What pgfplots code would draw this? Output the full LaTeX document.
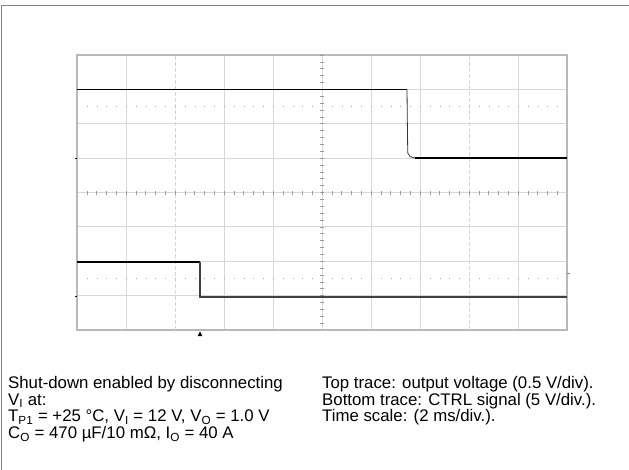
\documentclass[border=0pt]{standalone}
\usepackage{fontspec}
\setmainfont{Liberation Sans}
\usepackage{pgfplots}
\pgfplotsset{compat=1.18}

\definecolor{gridgray}{RGB}{216,216,216}
\definecolor{framegray}{RGB}{130,130,130}
\newcommand{\sub}[1]{\textsubscript{#1}}

\begin{document}
\begin{tikzpicture}[x=1bp,y=1bp]
\useasboundingbox (0,0) rectangle (629,-470);
% outer frame (cut at right and bottom)
\draw[framegray, line width=1.3bp] (1.5,-470) -- (1.5,-5.5) -- (629,-5.5);

\begin{axis}[
  at={(77bp,-330bp)}, anchor=south west,
  scale only axis, width=490bp, height=275bp,
  xmin=0, xmax=20, ymin=-4, ymax=4,
  xtick={0,2,6,8,10,12,14,18,20}, ytick={-4,...,4},
  xticklabels={}, yticklabels={},
  major tick length=0pt,
  grid=major, grid style={gridgray, line width=0.9bp},
  axis line style={gray!55, line width=1.1bp},
  clip=false,
]
% dashed grid lines at 2 and 8 div
\draw[gridgray, line width=0.9bp, dash pattern=on 4bp off 2bp] (axis cs:4,-4) -- (axis cs:4,4);
\draw[gridgray, line width=0.9bp, dash pattern=on 4bp off 2bp] (axis cs:16,-4) -- (axis cs:16,4);
% dotted reference lines
\draw[gray!70, line width=0.9bp, dash pattern=on 0.9bp off 8.9bp] (axis cs:0.4,2.5) -- (axis cs:20,2.5);
\draw[gray!70, line width=0.9bp, dash pattern=on 0.9bp off 8.9bp] (axis cs:0.4,-2.5) -- (axis cs:20,-2.5);
% minor ticks on the centre lines
\pgfplotsinvokeforeach{0.4,0.8,...,19.7}{
  \draw[gray!80, line width=0.6bp] ([yshift=-2bp]axis cs:#1,0) -- ([yshift=2bp]axis cs:#1,0);}
\pgfplotsinvokeforeach{-3.8,-3.6,...,3.9}{
  \draw[gray!80, line width=0.6bp] ([xshift=-2bp]axis cs:10,#1) -- ([xshift=2bp]axis cs:10,#1);}

% top trace: output voltage
\addplot[black, line width=1.1bp] coordinates {(0,3.0) (13.47,3.0)};
\addplot[black!80, line width=0.8bp] coordinates {(13.47,3.0) (13.48,2.2) (13.5,1.15) (13.6,1.04) (13.8,1.0)};
\addplot[black, line width=1.8bp] coordinates {(13.8,1.0) (20,1.0)};

% bottom trace: CTRL signal
\addplot[black, line width=2bp] coordinates {(0,-2.02) (5.02,-2.02)};
\addplot[black!75, line width=1.2bp] coordinates {(5.02,-2.02) (5.02,-3.04) (20,-3.04)};

% channel markers and trigger marker
\draw[black, line width=1bp] (axis cs:0,1) -- ([xshift=-2.5bp]axis cs:0,1);
\draw[black, line width=1bp] (axis cs:0,-3.03) -- ([xshift=-2.5bp]axis cs:0,-3.03);
\draw[gray, line width=1bp] (axis cs:20,-2.36) -- ([xshift=2.5bp]axis cs:20,-2.36);
\fill[black] ([yshift=-1.5bp]axis cs:5.02,-4) -- ([xshift=-2.3bp,yshift=-6bp]axis cs:5.02,-4)
  -- ([xshift=2.3bp,yshift=-6bp]axis cs:5.02,-4) -- cycle;
\end{axis}

% notes below the screen (base anchor = last line's baseline)
\node[anchor=base west, align=left, inner sep=0,
      font=\fontsize{16.8bp}{16.7bp}\selectfont] at (8,-438.6)
  {Shut-down enabled by disconnecting\\
   V\sub{I} at:\\
   T\sub{P1} = +25 °C, V\sub{I} = 12 V, V\sub{O} = 1.0 V\\
   C\sub{O} = 470 µF/10 mΩ, I\sub{O} = 40 A};
\node[anchor=base west, align=left, inner sep=0,
      font=\fontsize{16.8bp}{16.7bp}\selectfont] at (322,-421.9)
  {Top trace: output voltage (0.5 V/div).\\
   Bottom trace: CTRL signal (5 V/div.).\\
   Time scale: (2 ms/div.).};
\end{tikzpicture}
\end{document}
